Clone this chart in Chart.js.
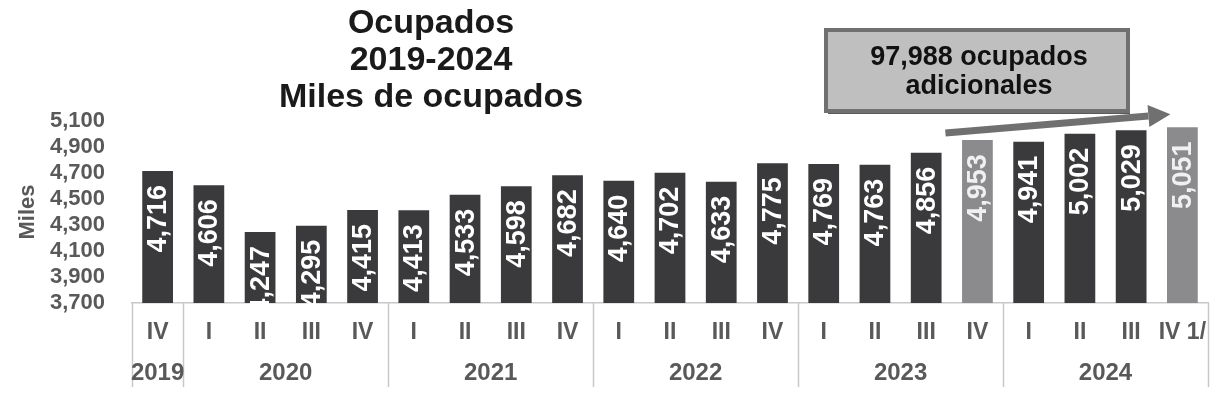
<!DOCTYPE html>
<html>
<head>
<meta charset="utf-8">
<script src="https://cdn.jsdelivr.net/npm/chart.js@4.4.1/dist/chart.umd.min.js"></script>
<style>
  html, body { margin: 0; padding: 0; background: #fff; }
  #wrap { width: 1226px; height: 396px; }
</style>
</head>
<body>
<div id="wrap"><canvas id="chart"></canvas></div>
<script>
// data
const quarters = ['IV', 'I', 'II', 'III', 'IV', 'I', 'II', 'III', 'IV', 'I', 'II', 'III', 'IV', 'I', 'II', 'III', 'IV', 'I', 'II', 'III', 'IV 1/'];
const ocupados = [4716, 4606, 4247, 4295, 4415, 4413, 4533, 4598, 4682, 4640, 4702, 4633, 4775, 4769, 4763, 4856, 4953, 4941, 5002, 5029, 5051];
const highlighted = [16, 20];
const years = ['2019', '2020', '2021', '2022', '2023', '2024'];
const quartersPerYear = [1, 4, 4, 4, 4, 4];
const yMin = 3700, yMax = 5100, yStep = 200;
const titleLines = ['Ocupados', '2019-2024', 'Miles de ocupados'];
const noteLines = ['97,988 ocupados', 'adicionales'];
const yTitle = 'Miles';

const FONT = "'Liberation Sans', Arial, sans-serif";
const GRAY_TXT = '#595959';
const LINE = '#c8c8c8';

const fmt = v => v.toLocaleString('en-US');

// rotated value labels inside the bars
const barLabels = {
  id: 'barLabels',
  afterDatasetsDraw(chart) {
    const ctx = chart.ctx;
    const meta = chart.getDatasetMeta(0);
    ctx.save();
    ctx.font = 'bold 27px ' + FONT;
    meta.data.forEach((bar, i) => {
      const txt = fmt(ocupados[i]);
      const len = ctx.measureText(txt).width;
      const off = Math.max(0, Math.min(14, bar.base - bar.y - len - 1));
      ctx.save();
      ctx.translate(bar.x + 1, bar.y + off);
      ctx.rotate(-Math.PI / 2);
      ctx.textAlign = 'right';
      ctx.textBaseline = 'middle';
      ctx.fillStyle = highlighted.includes(i) ? '#f0f0f0' : '#ffffff';
      ctx.fillText(txt, 0, 0);
      ctx.restore();
    });
    ctx.restore();
  }
};

// table under the x axis: year separators and year names
const yearTable = {
  id: 'yearTable',
  afterDraw(chart) {
    const ctx = chart.ctx;
    const xs = chart.scales.x;
    const area = chart.chartArea;
    const cat = xs.width / quarters.length;
    ctx.save();
    ctx.strokeStyle = LINE;
    ctx.lineWidth = 1.5;
    let idx = 0;
    const bounds = [0];
    quartersPerYear.forEach(n => { idx += n; bounds.push(idx); });
    bounds.forEach(b => {
      const px = Math.round(xs.left + b * cat) + 0.5;
      ctx.beginPath();
      ctx.moveTo(px, area.bottom);
      ctx.lineTo(px, area.bottom + 84);
      ctx.stroke();
    });
    ctx.font = 'bold 24px ' + FONT;
    ctx.fillStyle = GRAY_TXT;
    ctx.textAlign = 'center';
    ctx.textBaseline = 'middle';
    years.forEach((y, k) => {
      const cx = xs.left + (bounds[k] + bounds[k + 1]) / 2 * cat;
      ctx.fillText(y, cx, 373);
    });
    ctx.restore();
  }
};

// title block and the annotation box with arrow
const decorations = {
  id: 'decorations',
  afterDraw(chart) {
    const ctx = chart.ctx;
    const xs = chart.scales.x, ys = chart.scales.y;
    ctx.save();
    ctx.font = 'bold 34px ' + FONT;
    ctx.fillStyle = '#1a1a1a';
    ctx.textAlign = 'center';
    ctx.textBaseline = 'alphabetic';
    titleLines.forEach((t, i) => ctx.fillText(t, 431, 33 + i * 37));

    // note box
    const bx = 826, by = 30, bw = 302, bh = 81;
    ctx.fillStyle = '#5a5a5a';
    ctx.fillRect(bx + 2, by + 3, bw, bh);
    ctx.fillStyle = '#bfbfbf';
    ctx.fillRect(bx, by, bw, bh);
    ctx.strokeStyle = '#707070';
    ctx.lineWidth = 4;
    ctx.strokeRect(bx, by, bw, bh);
    ctx.fillStyle = '#111';
    ctx.font = 'bold 27px ' + FONT;
    ctx.textBaseline = 'middle';
    noteLines.forEach((t, i) => ctx.fillText(t, bx + bw / 2 + 2, by + 28 + i * 29));

    // arrow from 2023 IV towards 2024 IV
    const x0 = xs.getPixelForValue(16) - 32, y0 = ys.getPixelForValue(5008);
    const x1 = xs.getPixelForValue(20) - 12, y1 = ys.getPixelForValue(5152);
    const ang = Math.atan2(y1 - y0, x1 - x0);
    const headL = 22, headW = 11;
    const hx = x1 - headL * Math.cos(ang), hy = y1 - headL * Math.sin(ang);
    ctx.strokeStyle = '#707070';
    ctx.fillStyle = '#707070';
    ctx.lineWidth = 7;
    ctx.beginPath();
    ctx.moveTo(x0, y0);
    ctx.lineTo(hx, hy);
    ctx.stroke();
    ctx.beginPath();
    ctx.moveTo(x1, y1);
    ctx.lineTo(hx + headW * Math.sin(ang), hy - headW * Math.cos(ang));
    ctx.lineTo(hx - headW * Math.sin(ang), hy + headW * Math.cos(ang));
    ctx.closePath();
    ctx.fill();
    ctx.restore();
  }
};

new Chart(document.getElementById('chart'), {
  type: 'bar',
  data: {
    labels: quarters,
    datasets: [{
      label: 'Ocupados',
      data: ocupados,
      backgroundColor: ocupados.map((v, i) => highlighted.includes(i) ? '#8b8b8d' : '#3a3a3c'),
      barPercentage: 0.6,
      categoryPercentage: 1.0,
      borderWidth: 0
    }]
  },
  options: {
    responsive: true,
    maintainAspectRatio: false,
    animation: false,
    layout: { padding: { left: 0, top: 121, right: 18, bottom: 0 } },
    plugins: {
      legend: { display: false },
      title: { display: false },
      tooltip: { enabled: false }
    },
    scales: {
      x: {
        grid: { display: false, drawTicks: false },
        border: { display: true, color: LINE, width: 1.5 },
        ticks: {
          color: GRAY_TXT,
          font: { family: FONT, size: 23, weight: 'bold' },
          padding: 16,
          maxRotation: 0,
          autoSkip: false
        },
        afterFit(scale) { scale.height = 93; }
      },
      y: {
        min: yMin,
        max: yMax,
        grid: { display: false, drawTicks: false },
        border: { display: false },
        ticks: {
          stepSize: yStep,
          autoSkip: false,
          color: GRAY_TXT,
          font: { family: FONT, size: 22, weight: 'bold' },
          padding: 27,
          callback: v => fmt(v)
        },
        title: {
          display: true,
          text: yTitle,
          color: GRAY_TXT,
          font: { family: FONT, size: 22, weight: 'bold' },
          padding: { top: 15, bottom: 0 }
        },
        afterFit(scale) { scale.width = 132; }
      }
    }
  },
  plugins: [barLabels, yearTable, decorations]
});
</script>
</body>
</html>
